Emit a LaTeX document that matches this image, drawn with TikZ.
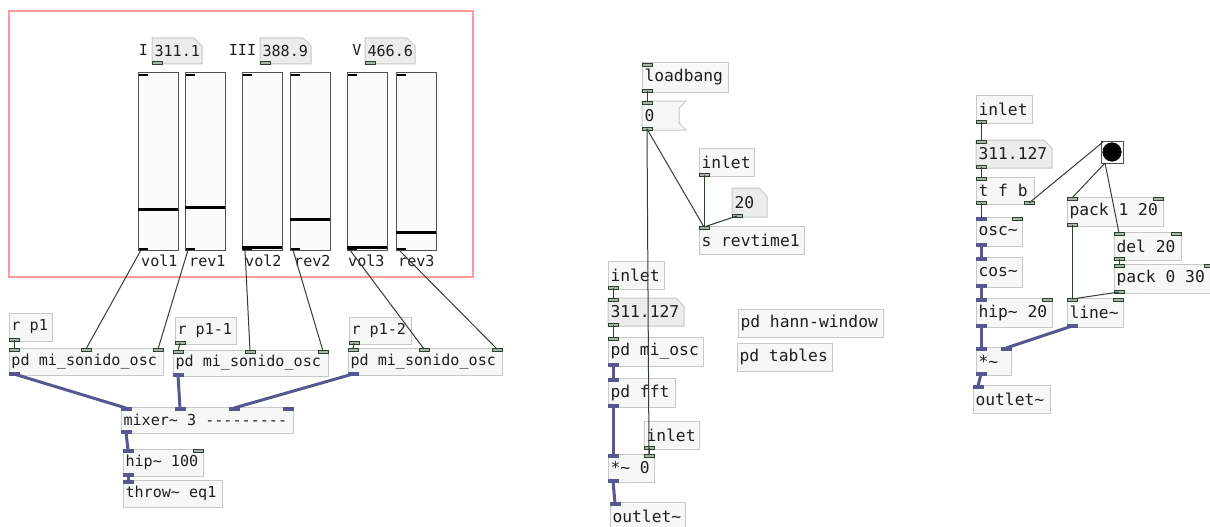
\documentclass[tikz,border=0pt]{standalone}
\usepackage{fontspec}
\setmonofont{DejaVu Sans Mono}
\definecolor{boxline}{HTML}{C8C8C8}
\definecolor{boxfill}{HTML}{F6F8F8}
\definecolor{numfill}{HTML}{ECECEC}
\definecolor{txt}{HTML}{1E1E1E}
\definecolor{inletfill}{HTML}{A9B5A9}
\definecolor{inletline}{HTML}{2F3F2F}
\definecolor{sig}{HTML}{585890}
\definecolor{ctlline}{HTML}{304030}
\definecolor{sldline}{HTML}{505050}
\definecolor{sldfill}{HTML}{FBFBFB}
\definecolor{redframe}{HTML}{FF9A9A}
\def\pdfsz{15.1}
\newcommand\pdfnt{\ttfamily\fontsize{\pdfsz}{18}\selectfont}
\newcommand\sk{\hbox to 0.602em{}}
\newcommand\pdo[6]{\pgfmathsetmacro\pdw{#4-#2}\pgfmathsetmacro\pdh{#5-#3}\pgfmathsetmacro\pdtw{#4-#2-5}%
  \node[pdobj,minimum width=\pdw pt,minimum height=\pdh pt,text width=\pdtw pt] (#1) at (#2,#3) {\mbox{#6}};}
\newcommand\pdnum[6]{\pgfmathsetmacro\pdw{#4-#2}\pgfmathsetmacro\pdh{#5-#3}\pgfmathsetmacro\pdtw{#4-#2-5}%
  \draw[numbox] (#2,#3) -- ({#4-8},#3) -- (#4,{#3+8}) -- (#4,#5) -- (#2,#5) -- cycle;
  \node[pdbare,minimum width=\pdw pt,minimum height=\pdh pt,text width=\pdtw pt] (#1) at (#2,#3) {\mbox{#6}};}
\newcommand\pdmsg[6]{\pgfmathsetmacro\pdw{#4-#2}\pgfmathsetmacro\pdh{#5-#3}\pgfmathsetmacro\pdtw{#4-#2-5}%
  \draw[msgbox] (#2,#3) -- (#4,#3) -- ({#4-7},{#3+7}) -- ({#4-7},{#5-7}) -- (#4,#5) -- (#2,#5) -- cycle;
  \node[pdbare,minimum width=\pdw pt,minimum height=\pdh pt,text width=\pdtw pt] (#1) at (#2,#3) {\mbox{#6}};}
% inlet: node, id, anchor, xoffset, style
\newcommand\inl[5]{\draw[#5] ([xshift=#4 pt]#1.#3) rectangle ([xshift=#4 pt+10pt,yshift=-3pt]#1.#3);
  \coordinate (#1-#2) at ([xshift=#4 pt+5pt,yshift=-1pt]#1.#3);}
\newcommand\outl[5]{\draw[#5] ([xshift=#4 pt]#1.#3) rectangle ([xshift=#4 pt+10pt,yshift=3pt]#1.#3);
  \coordinate (#1-#2) at ([xshift=#4 pt+5pt,yshift=1pt]#1.#3);}
% slider: name, x1, knob y
\newcommand\sld[3]{\node[slider] (#1) at (#2,73) {};
  \fill[black] ({#2+1},74) rectangle ({#2+10},76);
  \fill[black] ({#2+1},248) rectangle ({#2+10},250);
  \draw[line width=3pt,black] (#2,#3) -- ({#2+40},#3);
  \coordinate (#1-o) at ({#2+3},250);}
\begin{document}
\begin{tikzpicture}[x=1pt,y=-1pt,
  pdobj/.style={draw=boxline,fill=boxfill,line width=1pt,anchor=north west,inner xsep=2.5pt,inner ysep=0pt,outer sep=0pt,align=left,font=\pdfnt,text=txt},
  pdbare/.style={pdobj,draw=none,fill=none},
  numbox/.style={draw=boxline,fill=numfill,line width=1pt},
  msgbox/.style={draw=boxline,fill=boxfill,line width=1pt},
  cin/.style={draw=inletline,fill=inletfill,line width=0.8pt},
  sin/.style={draw=sig,fill=sig,line width=0.6pt},
  ctl/.style={draw=ctlline,line width=1pt},
  sigc/.style={draw=sig,line width=3pt},
  slider/.style={draw=sldline,fill=sldfill,line width=1pt,anchor=north west,inner sep=0pt,outer sep=0pt,minimum width=40pt,minimum height=177pt},
  lbl/.style={font=\pdfnt,text=txt,inner sep=0pt}]
\useasboundingbox[fill=white] (0,0) rectangle (1210,527);

% ---------- left: GOP ----------
\draw[redframe,line width=1.3pt] (9,11) rectangle (473,277);
\node[lbl] (lI) at (143.5,50) {I};
\node[lbl] (lIII) at (242.5,50) {III};
\node[lbl] (lV) at (357,50) {V};
\pdnum{nb1}{152}{38}{202}{64}{311.1}
\pdnum{nb2}{260}{38}{311}{64}{388.9}
\pdnum{nb3}{365}{38}{415}{64}{466.6}
\outl{nb1}{o0}{south west}{0}{cin}
\outl{nb2}{o0}{south west}{0}{cin}
\outl{nb3}{o0}{south west}{0}{cin}
\sld{s1}{138}{209}
\sld{s2}{185}{207}
\sld{s3}{242}{247}
\sld{s4}{290}{219}
\sld{s5}{347}{247}
\sld{s6}{396}{232}
\node[lbl,anchor=west] (ls1) at (141,261) {vol1};
\node[lbl,anchor=west] (ls2) at (189,261) {rev1};
\node[lbl,anchor=west] (ls3) at (245,261) {vol2};
\node[lbl,anchor=west] (ls4) at (294,261) {rev2};
\node[lbl,anchor=west] (ls5) at (348,261) {vol3};
\node[lbl,anchor=west] (ls6) at (398,261) {rev3};

\pdo{r1}{9}{313}{52}{341}{r\sk p1}
\pdo{r2}{175}{317}{236}{344}{r\sk p1-1}
\pdo{r3}{349}{317}{411}{344}{r\sk p1-2}
\pdo{pd1}{9}{348}{163}{375}{pd\sk mi\_sonido\_osc}
\pdo{pd2}{173}{350}{328}{376}{pd\sk mi\_sonido\_osc}
\pdo{pd3}{348}{348}{502}{375}{pd\sk mi\_sonido\_osc}
\pdo{mix}{121}{407}{293}{433}{mixer\textasciitilde\sk 3\sk -{}-{}-{}-{}-{}-{}-{}-{}-}
\pdo{hip1}{123}{449}{203}{476}{hip\textasciitilde\sk 100}
\pdo{thr}{123}{480}{222}{507}{throw\textasciitilde\sk eq1}
\outl{r1}{o0}{south west}{0}{cin}
\outl{r2}{o0}{south west}{0}{cin}
\outl{r3}{o0}{south west}{0}{cin}
\foreach \p/\m in {pd1/72,pd2/72,pd3/71}{
  \inl{\p}{i0}{north west}{0}{cin}
  \inl{\p}{i1}{north west}{\m}{cin}
  \inl{\p}{i2}{north east}{-10}{cin}
  \outl{\p}{o0}{south west}{0}{sin}
}
\inl{mix}{i0}{north west}{0}{sin}
\inl{mix}{i1}{north west}{54}{sin}
\inl{mix}{i2}{north west}{108}{sin}
\inl{mix}{i3}{north east}{-10}{sin}
\outl{mix}{o0}{south west}{0}{sin}
\inl{hip1}{i0}{north west}{0}{sin}
\inl{hip1}{i1}{north east}{-10}{cin}
\outl{hip1}{o0}{south west}{0}{sin}
\inl{thr}{i0}{north west}{0}{sin}

\draw[ctl] (s1-o) -- (pd1-i1);
\draw[ctl] (s2-o) -- (pd1-i2);
\draw[ctl] (s3-o) -- (pd2-i1);
\draw[ctl] (s4-o) -- (pd2-i2);
\draw[ctl] (s5-o) -- (pd3-i1);
\draw[ctl] (s6-o) -- (pd3-i2);
\draw[ctl] (r1-o0) -- (pd1-i0);
\draw[ctl] (r2-o0) -- (pd2-i0);
\draw[ctl] (r3-o0) -- (pd3-i0);
\draw[sigc] (pd1-o0) -- (mix-i0);
\draw[sigc] (pd2-o0) -- (mix-i1);
\draw[sigc] (pd3-o0) -- (mix-i2);
\draw[sigc] (mix-o0) -- (hip1-i0);
\draw[sigc] (hip1-o0) -- (thr-i0);

% ---------- middle ----------
\def\pdfsz{16.3}
\pdo{lb}{642}{63}{728}{92}{loadbang}
\pdmsg{m0}{642}{101}{686}{130}{0}
\pdo{in1}{699}{148}{754}{176}{inlet}
\pdnum{n20}{732}{188}{767}{217}{20}
\pdo{srev}{699}{226}{804}{254}{s\sk revtime1}
\pdo{in2}{608}{261}{664}{289}{inlet}
\pdnum{n311}{608}{298}{684}{326}{311.127}
\pdo{mosc}{608}{337}{703}{366}{pd\sk mi\_osc}
\pdo{fft}{608}{378}{675}{407}{pd\sk fft}
\pdo{in3}{644}{421}{699}{449}{inlet}
\pdo{mul0}{608}{454}{654}{482}{*\textasciitilde\sk 0}
\pdo{out1}{610}{502}{685}{530}{outlet\textasciitilde}
\pdo{hann}{738}{309}{883}{337}{pd\sk hann-window}
\pdo{tabs}{737}{343}{832}{371}{pd\sk tables}
\inl{lb}{i0}{north west}{0}{cin}
\outl{lb}{o0}{south west}{0}{cin}
\inl{m0}{i0}{north west}{0}{cin}
\outl{m0}{o0}{south west}{0}{cin}
\outl{in1}{o0}{south west}{0}{cin}
\outl{n20}{o0}{south west}{0}{cin}
\inl{srev}{i0}{north west}{0}{cin}
\outl{in2}{o0}{south west}{0}{cin}
\inl{n311}{i0}{north west}{0}{cin}
\outl{n311}{o0}{south west}{0}{cin}
\inl{mosc}{i0}{north west}{0}{cin}
\outl{mosc}{o0}{south west}{0}{sin}
\inl{fft}{i0}{north west}{0}{sin}
\outl{fft}{o0}{south west}{0}{sin}
\outl{in3}{o0}{south west}{0}{cin}
\inl{mul0}{i0}{north west}{0}{sin}
\inl{mul0}{i1}{north east}{-10}{cin}
\outl{mul0}{o0}{south west}{0}{sin}
\inl{out1}{i0}{north west}{0}{sin}

\draw[ctl] (lb-o0) -- (m0-i0);
\draw[ctl] (m0-o0) -- (srev-i0);
\draw[ctl] (m0-o0) -- (mul0-i1);
\draw[ctl] (in1-o0) -- (srev-i0);
\draw[ctl] (n20-o0) -- (srev-i0);
\draw[ctl] (in2-o0) -- (n311-i0);
\draw[ctl] (n311-o0) -- (mosc-i0);
\draw[sigc] (mosc-o0) -- (fft-i0);
\draw[sigc] (fft-o0) -- (mul0-i0);
\draw[ctl] (in3-o0) -- (mul0-i1);
\draw[sigc] (mul0-o0) -- (out1-i0);

% ---------- right ----------
\pdo{in4}{976}{95}{1032}{123}{inlet}
\pdnum{n311b}{976}{140}{1052}{168}{311.127}
\pdo{tfb}{976}{177}{1034}{204}{t\sk f\sk b}
\node[draw=sldline,fill=white,line width=1pt,minimum size=22pt,inner sep=0pt,outer sep=0pt,anchor=north west] (bng) at (1101,141) {};
\fill[black] (bng.center) circle (9.6pt);
\coordinate (bng-i) at (1103,142);
\coordinate (bng-o) at (1105,163);
\pdo{osc}{976}{217}{1022}{246}{osc\textasciitilde}
\pdo{cos}{976}{257}{1022}{287}{cos\textasciitilde}
\pdo{hip2}{976}{298}{1052}{327}{hip\textasciitilde\sk 20}
\pdo{mul}{976}{347}{1011}{375}{*\textasciitilde}
\pdo{out2}{973}{385}{1050}{413}{outlet\textasciitilde}
\pdo{pk1}{1067}{197}{1163}{226}{pack\sk 1\sk 20}
\pdo{del}{1114}{232}{1181}{260}{del\sk 20}
\pdo{pk0}{1114}{264}{1214}{293}{pack\sk 0\sk 30}
\pdo{line}{1067}{298}{1123}{327}{line\textasciitilde}
\outl{in4}{o0}{south west}{0}{cin}
\inl{n311b}{i0}{north west}{0}{cin}
\outl{n311b}{o0}{south west}{0}{cin}
\inl{tfb}{i0}{north west}{0}{cin}
\outl{tfb}{o0}{south west}{0}{cin}
\outl{tfb}{o1}{south east}{-10}{cin}
\inl{osc}{i0}{north west}{0}{sin}
\inl{osc}{i1}{north east}{-10}{cin}
\outl{osc}{o0}{south west}{0}{sin}
\inl{cos}{i0}{north west}{0}{sin}
\outl{cos}{o0}{south west}{0}{sin}
\inl{hip2}{i0}{north west}{0}{sin}
\inl{hip2}{i1}{north east}{-10}{cin}
\outl{hip2}{o0}{south west}{0}{sin}
\inl{mul}{i0}{north west}{0}{sin}
\inl{mul}{i1}{north east}{-10}{sin}
\outl{mul}{o0}{south west}{0}{sin}
\inl{out2}{i0}{north west}{0}{sin}
\inl{pk1}{i0}{north west}{0}{cin}
\inl{pk1}{i1}{north east}{-10}{cin}
\outl{pk1}{o0}{south west}{0}{cin}
\inl{del}{i0}{north west}{0}{cin}
\inl{del}{i1}{north east}{-10}{cin}
\outl{del}{o0}{south west}{0}{cin}
\inl{pk0}{i0}{north west}{0}{cin}
\inl{pk0}{i1}{north east}{-10}{cin}
\outl{pk0}{o0}{south west}{0}{cin}
\inl{line}{i0}{north west}{0}{cin}
\inl{line}{i1}{north east}{-10}{cin}
\outl{line}{o0}{south west}{0}{sin}

\draw[ctl] (in4-o0) -- (n311b-i0);
\draw[ctl] (n311b-o0) -- (tfb-i0);
\draw[ctl] (tfb-o0) -- (osc-i0);
\draw[ctl] (tfb-o1) -- (bng-i);
\draw[ctl] (bng-o) -- (pk1-i0);
\draw[ctl] (bng-o) -- (del-i0);
\draw[ctl] (del-o0) -- (pk0-i0);
\draw[ctl] (pk1-o0) -- (line-i0);
\draw[ctl] (pk0-o0) -- (line-i0);
\draw[sigc] (osc-o0) -- (cos-i0);
\draw[sigc] (cos-o0) -- (hip2-i0);
\draw[sigc] (hip2-o0) -- (mul-i0);
\draw[sigc] (line-o0) -- (mul-i1);
\draw[sigc] (mul-o0) -- (out2-i0);
\end{tikzpicture}
\end{document}
